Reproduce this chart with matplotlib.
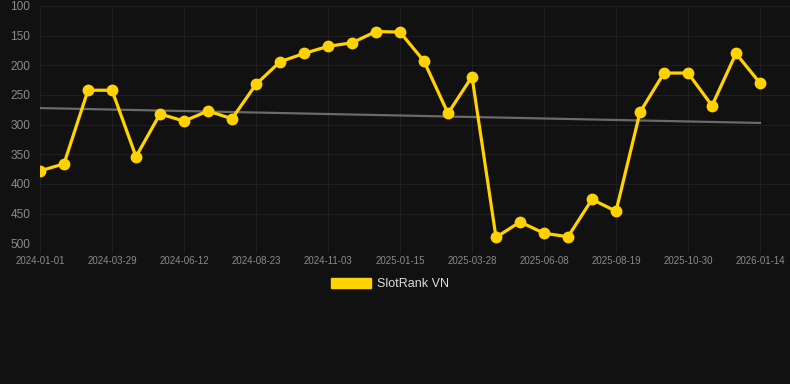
import matplotlib
matplotlib.use("Agg")
import matplotlib.pyplot as plt
import numpy as np
from matplotlib.patches import Patch

# rank readings, one every ~24 days from 2024-01-01 to 2026-01-14
ranks = [378, 366, 242, 242, 354, 282, 294, 277, 290, 232,
         194, 180, 168, 162, 143, 144, 193, 281, 219, 490,
         464, 483, 489, 426, 446, 279, 213, 213, 268, 180, 230]
date_labels = ["2024-01-01", "2024-03-29", "2024-06-12", "2024-08-23",
               "2024-11-03", "2025-01-15", "2025-03-28", "2025-06-08",
               "2025-08-19", "2025-10-30", "2026-01-14"]
y_ticks = [100, 150, 200, 250, 300, 350, 400, 450, 500]

bg = "#111111"
grid_col = "#1f1f1f"
yellow = "#FFD200"

plt.rcParams['font.family'] = ['Liberation Sans', 'DejaVu Sans']

fig = plt.figure(figsize=(7.9, 3.84), dpi=100, facecolor=bg)
ax = fig.add_axes([40 / 790, 1 - 243.3 / 384, 750 / 790, 237.3 / 384])
ax.set_facecolor(bg)

x = np.arange(len(ranks))

# trend line (least squares)
slope, icpt = np.polyfit(x, ranks, 1)
ax.plot([x[0], x[-1]], [icpt, icpt + slope * x[-1]], color="#6a6a6a", lw=1.6, zorder=2)

ax.plot(x, ranks, color=yellow, lw=2.3, marker="o", ms=7.5,
        markerfacecolor=yellow, markeredgecolor=yellow, zorder=3)

ax.set_xlim(0, 31.25)
ax.set_ylim(500, 100)
ax.set_yticks(y_ticks)
ax.set_xticks(x[::3])
ax.set_xticklabels(date_labels)

ax.grid(True, color=grid_col, lw=0.8)
ax.set_axisbelow(True)
for s in ax.spines.values():
    s.set_visible(False)

ax.tick_params(axis="y", length=0, pad=7, labelsize=8.6, labelcolor="#8a8a8a")
ax.tick_params(axis="x", length=7, width=0.8, color=grid_col, pad=2,
               labelsize=7, labelcolor="#8a8a8a")

leg = fig.legend(handles=[Patch(facecolor=yellow, edgecolor=yellow, label="SlotRank VN")],
                 loc="center", bbox_to_anchor=(390 / 790, 1 - 284 / 384),
                 frameon=False, fontsize=9, labelcolor="#dddddd",
                 handlelength=3.2, handleheight=0.8, handletextpad=0.55)

fig.savefig("out.png", dpi=100, facecolor=bg)
